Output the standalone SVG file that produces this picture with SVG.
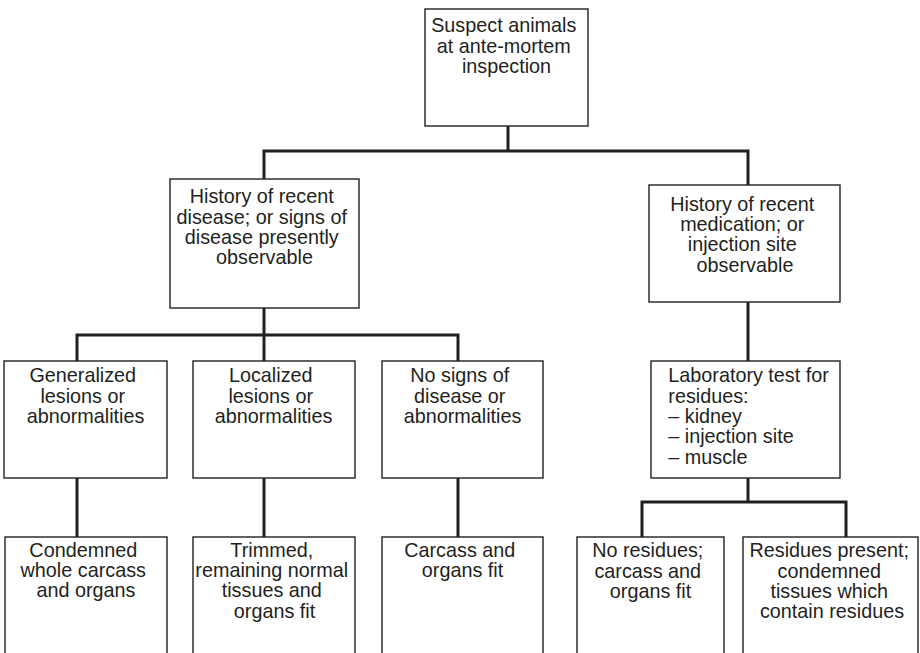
<svg xmlns="http://www.w3.org/2000/svg" width="920" height="653" viewBox="0 0 920 653">
  <style>
    .box { fill: #ffffff; stroke: #231f20; stroke-width: 1.4; }
    .wire { fill: none; stroke: #231f20; stroke-width: 3; stroke-linejoin: miter; }
    .lbl { font-family: "Liberation Sans", Arial, Helvetica, sans-serif; font-size: 19.8px; fill: #231f20; text-anchor: middle; }
    .lbl-left { text-anchor: start; }
  </style>
  <rect width="920" height="653" fill="#ffffff"/>

  <!-- connectors -->
  <g id="connectors">
    <path class="wire" d="M508,126 V151 M264,179 V151 H748 V185"/>
    <path class="wire" d="M264,308 V335 M77,361 V335 H458 V361 M264,335 V361"/>
    <path class="wire" d="M77,478 V537 M264,478 V537 M458,478 V537"/>
    <path class="wire" d="M748,302 V361"/>
    <path class="wire" d="M748,478 V502 M642,537 V502 H846 V537"/>
  </g>

  <!-- level 1 -->
  <g id="suspect">
    <rect class="box" x="425" y="9" width="163" height="117"/>
    <text class="lbl" x="506.5" y="32.3">
      <tspan x="506.5">Suspect animals</tspan>
      <tspan x="506.5" dy="20.3">at ante-mortem</tspan>
      <tspan x="506.5" dy="20.3">inspection</tspan>
    </text>
  </g>

  <!-- level 2 -->
  <g id="disease">
    <rect class="box" x="170" y="179" width="189" height="129"/>
    <text class="lbl" x="264.5" y="203.3">
      <tspan x="264.5">History of recent</tspan>
      <tspan x="264.5" dy="20.3">disease; or signs of</tspan>
      <tspan x="264.5" dy="20.3">disease presently</tspan>
      <tspan x="264.5" dy="20.3">observable</tspan>
    </text>
  </g>

  <g id="medication">
    <rect class="box" x="649" y="185" width="191" height="117"/>
    <text class="lbl" x="745" y="210.7">
      <tspan x="745">History of recent</tspan>
      <tspan x="745" dy="20.3">medication; or</tspan>
      <tspan x="745" dy="20.3">injection site</tspan>
      <tspan x="745" dy="20.3">observable</tspan>
    </text>
  </g>

  <!-- level 3 -->
  <g id="generalized">
    <rect class="box" x="4" y="361" width="163" height="117"/>
    <text class="lbl" x="85.5" y="382.3">
      <tspan x="85.5">Generalized</tspan>
      <tspan x="85.5" dy="20.3">lesions or</tspan>
      <tspan x="85.5" dy="20.3">abnormalities</tspan>
    </text>
  </g>

  <g id="localized">
    <rect class="box" x="193" y="361" width="162" height="117"/>
    <text class="lbl" x="273.5" y="382.3">
      <tspan x="273.5">Localized</tspan>
      <tspan x="273.5" dy="20.3">lesions or</tspan>
      <tspan x="273.5" dy="20.3">abnormalities</tspan>
    </text>
  </g>

  <g id="no-signs">
    <rect class="box" x="382" y="361" width="161" height="117"/>
    <text class="lbl" x="462.5" y="382.3">
      <tspan x="462.5">No signs of</tspan>
      <tspan x="462.5" dy="20.3">disease or</tspan>
      <tspan x="462.5" dy="20.3">abnormalities</tspan>
    </text>
  </g>

  <g id="lab-test">
    <rect class="box" x="651" y="361" width="189" height="117"/>
    <text class="lbl lbl-left" x="668.3" y="382.3">
      <tspan x="668.3">Laboratory test for</tspan>
      <tspan x="668.3" dy="20.3">residues:</tspan>
      <tspan x="668.3" dy="20.3">– kidney</tspan>
      <tspan x="668.3" dy="20.3">– injection site</tspan>
      <tspan x="668.3" dy="20.3">– muscle</tspan>
    </text>
  </g>

  <!-- level 4 (outcomes) -->
  <g id="condemned">
    <rect class="box" x="5" y="537" width="162" height="140"/>
    <text class="lbl" x="86" y="556.7">
      <tspan x="86">Condemned</tspan>
      <tspan x="86" dy="20.3">whole carcass</tspan>
      <tspan x="86" dy="20.3">and organs</tspan>
    </text>
  </g>

  <g id="trimmed">
    <rect class="box" x="193" y="537" width="162" height="140"/>
    <text class="lbl" x="274.5" y="556.7">
      <tspan x="274.5">Trimmed,</tspan>
      <tspan x="274.5" dy="20.3">remaining normal</tspan>
      <tspan x="274.5" dy="20.3">tissues and</tspan>
      <tspan x="274.5" dy="20.3">organs fit</tspan>
    </text>
  </g>

  <g id="fit">
    <rect class="box" x="382" y="537" width="161" height="140"/>
    <text class="lbl" x="462.5" y="556.7">
      <tspan x="462.5">Carcass and</tspan>
      <tspan x="462.5" dy="20.3">organs fit</tspan>
    </text>
  </g>

  <g id="no-residues">
    <rect class="box" x="577" y="537" width="147" height="140"/>
    <text class="lbl" x="650.5" y="557.3">
      <tspan x="650.5">No residues;</tspan>
      <tspan x="650.5" dy="20.3">carcass and</tspan>
      <tspan x="650.5" dy="20.3">organs fit</tspan>
    </text>
  </g>

  <g id="residues-present">
    <rect class="box" x="743" y="537" width="175" height="140"/>
    <text class="lbl" x="832" y="557.3">
      <tspan x="832">Residues present;</tspan>
      <tspan x="832" dy="20.3">condemned</tspan>
      <tspan x="832" dy="20.3">tissues which</tspan>
      <tspan x="832" dy="20.3">contain residues</tspan>
    </text>
  </g>
</svg>
